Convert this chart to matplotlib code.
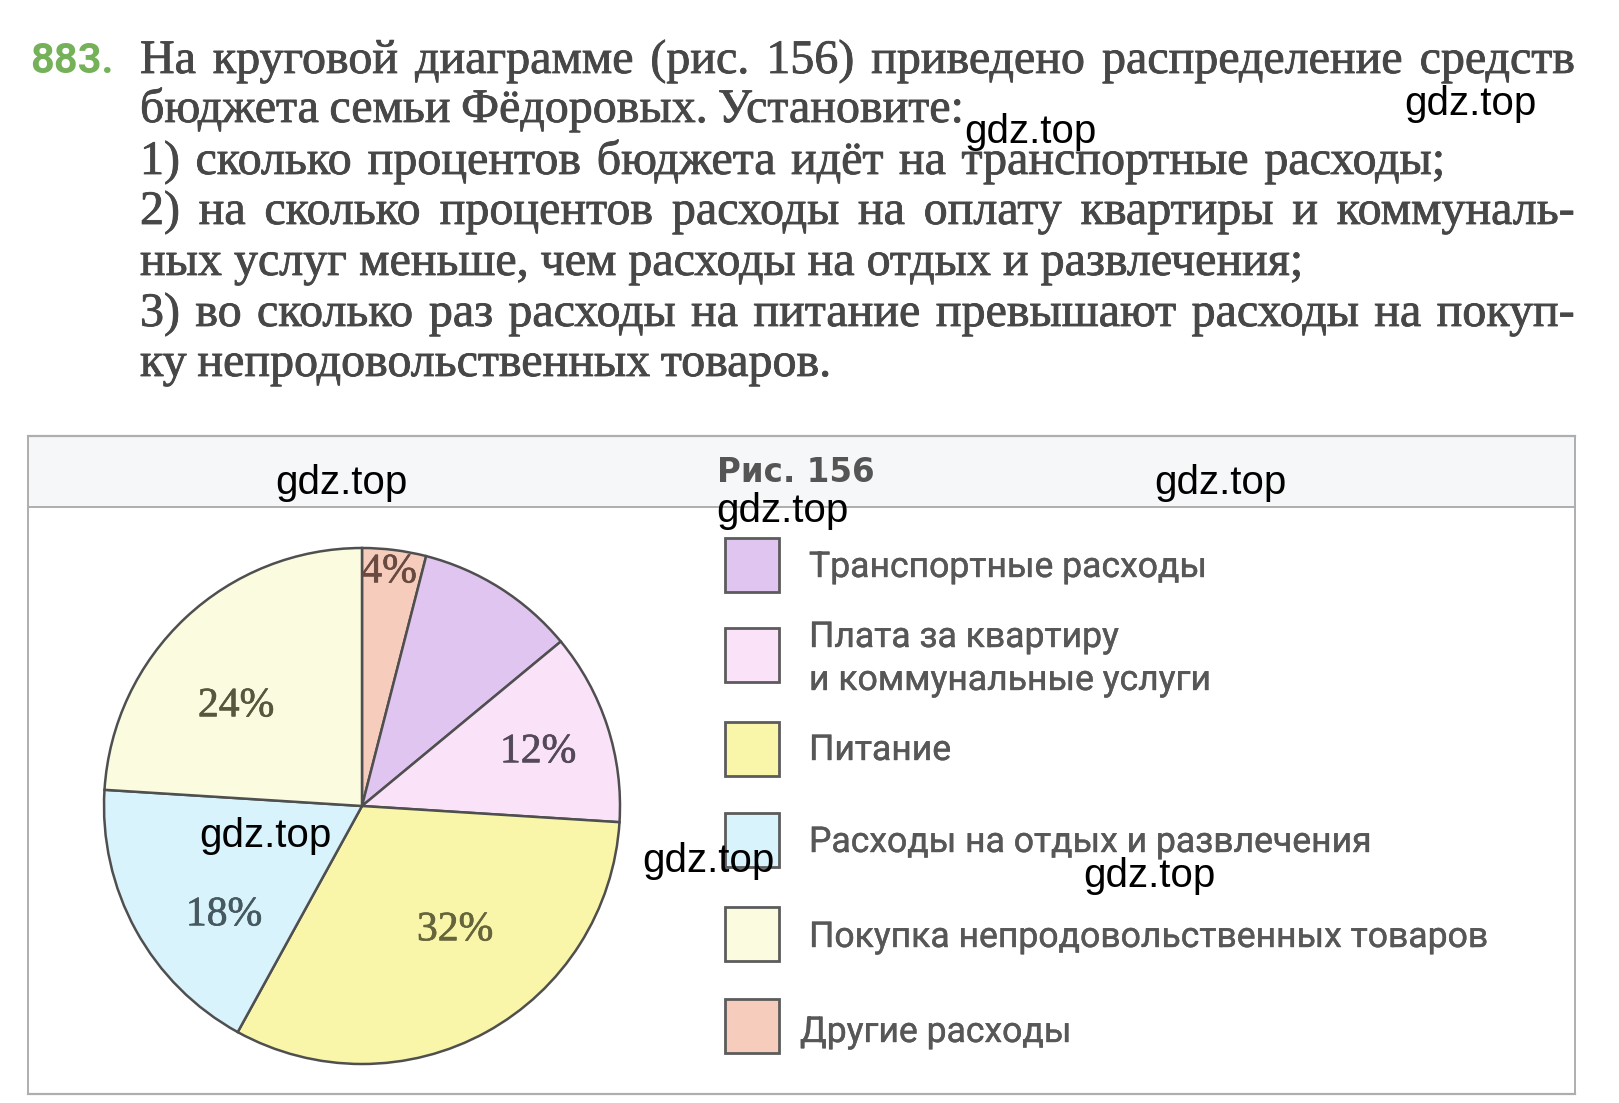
import matplotlib
matplotlib.use("Agg")
import matplotlib.pyplot as plt
from matplotlib.patches import Rectangle
import matplotlib.patheffects as pe

W, H = 1619, 1103

# ---------------- data ----------------
categories = [
    "Транспортные расходы",
    "Плата за квартиру\nи коммунальные услуги",
    "Питание",
    "Расходы на отдых и развлечения",
    "Покупка непродовольственных товаров",
    "Другие расходы",
]
shares = [10, 12, 32, 18, 24, 4]
pct_labels = ["", "12%", "32%", "18%", "24%", "4%"]
colors = ["#e0c5f1", "#fae3f9", "#f9f6aa", "#d8f3fb", "#fbfbe0", "#f6cdbd"]
pie_order = [5, 0, 1, 2, 3, 4]   # drawing order, clockwise from the top

problem_number = "883."
problem_lines = [
    "На круговой диаграмме (рис. 156) приведено распределение средств",
    "бюджета семьи Фёдоровых. Установите:",
    "1) сколько процентов бюджета идёт на транспортные расходы;",
    "2) на сколько процентов расходы на оплату квартиры и коммуналь-",
    "ных услуг меньше, чем расходы на отдых и развлечения;",
    "3) во сколько раз расходы на питание превышают расходы на покуп-",
    "ку непродовольственных товаров.",
]
figure_caption = "Рис. 156"
watermark = "gdz.top"

# ---------------- layout ----------------
line_right = [1575, 964, 1445, 1575, 1303, 1575, 831]
line_base = [73, 122, 174, 224, 275, 326, 376]
text_left = 140
pie_center = (362, 806)
pie_radius = 258
label_pos = {1: (538, 752), 2: (455, 930), 3: (224, 915), 4: (236, 706), 5: (389, 572)}
label_col = {1: "#54495a", 2: "#66643c", 3: "#465860", 4: "#56583e", 5: "#684a40"}
swatch_y = [538, 628, 722, 813, 907, 999]
swatch_h = 54
legend_base = [[577], [647, 690], [760], [852], [947], [1042]]
wm_pos = [(1404, 115), (964, 143), (275, 494), (1154, 494), (716, 522),
          (199, 847), (642, 872), (1083, 887)]

fig = plt.figure(figsize=(W / 100, H / 100), dpi=100)
ax = fig.add_axes([0, 0, 1, 1])
renderer = fig.canvas.get_renderer()

def Y(y):
    return H - y

# ---------------- frame ----------------
ax.add_patch(Rectangle((28, Y(507)), 1575 - 28, 507 - 436, facecolor="#f6f7f8",
                       edgecolor="none", zorder=0))
frame_col = "#aeaeae"
ax.plot([28, 1575], [Y(436), Y(436)], color=frame_col, lw=1.6)
ax.plot([28, 1575], [Y(507), Y(507)], color=frame_col, lw=1.4)
ax.plot([28, 1575], [Y(1094), Y(1094)], color=frame_col, lw=1.6)
ax.plot([28, 28], [Y(436), Y(1094)], color=frame_col, lw=1.4)
ax.plot([1575, 1575], [Y(436), Y(1094)], color=frame_col, lw=1.4)

# ---------------- pie ----------------
ax.pie([shares[i] for i in pie_order],
       colors=[colors[i] for i in pie_order],
       startangle=90, counterclock=False,
       center=(pie_center[0], Y(pie_center[1])), radius=pie_radius,
       wedgeprops=dict(edgecolor="#4f4f4f", linewidth=1.8))

for i, txt in enumerate(pct_labels):
    if txt:
        x, y = label_pos[i]
        ax.text(x, Y(y), txt, ha="center", va="center", fontsize=30,
                family="Liberation Serif", color=label_col[i],
                path_effects=[pe.withStroke(linewidth=0.5, foreground=label_col[i])])

# ---------------- helpers ----------------
def width_of(s, **kw):
    t = ax.text(0, 0, s, **kw)
    w = t.get_window_extent(renderer).width
    t.remove()
    return w

def fit_size(s, target, **kw):
    w = width_of(s, fontsize=10, **kw)
    return 10 * target / w

def justify(words, x0, x1, yb, **kw):
    ts = [ax.text(0, 0, w, ha="left", va="baseline", **kw) for w in words]
    ws = [t.get_window_extent(renderer).width for t in ts]
    gap = (x1 - x0 - sum(ws)) / max(len(words) - 1, 1)
    x = x0
    for t, w in zip(ts, ws):
        t.set_position((x, Y(yb)))
        x += w + gap

# ---------------- problem text ----------------
body_col = "#474747"
serif = dict(family="Liberation Serif", color=body_col)
ratios = []
for k in (1, 2, 4, 6):
    ratios.append((line_right[k] - text_left) /
                  width_of(problem_lines[k], fontsize=10, **serif) * 10)
body_fs = sum(ratios) / len(ratios)
for k, line in enumerate(problem_lines):
    justify(line.split(" "), text_left, line_right[k], line_base[k],
            fontsize=body_fs,
            path_effects=[pe.withStroke(linewidth=0.6, foreground=body_col)],
            **serif)

num_kw = dict(family="Roboto", weight="bold", color="#74b158")
ax.text(30, Y(73), problem_number, ha="left", va="baseline", fontsize=30, **num_kw)

# ---------------- caption and legend ----------------
cap_kw = dict(family="DejaVu Sans", weight="bold", color="#555555")
cap_fs = fit_size(figure_caption, 158, **cap_kw)
ax.text(717, Y(482), figure_caption, ha="left", va="baseline", fontsize=cap_fs, **cap_kw)

leg_col = "#575757"
leg_kw = dict(family="Roboto", color=leg_col)
leg_fs = fit_size(categories[4], 680, **leg_kw)
for i, cat in enumerate(categories):
    ax.add_patch(Rectangle((725, Y(swatch_y[i] + swatch_h)), 54, swatch_h,
                           facecolor=colors[i], edgecolor="#5c5c5c", lw=2.0))
    x_txt = 800 if i == 5 else 809
    for part, yb in zip(cat.split("\n"), legend_base[i]):
        ax.text(x_txt, Y(yb), part, ha="left", va="baseline", fontsize=leg_fs,
                path_effects=[pe.withStroke(linewidth=0.3, foreground=leg_col)],
                **leg_kw)

# ---------------- watermarks ----------------
for x, yb in wm_pos:
    ax.text(x, Y(yb), watermark, ha="left", va="baseline", fontsize=29,
            family="Liberation Sans", color="black", zorder=10)

ax.set_xlim(0, W)
ax.set_ylim(0, H)
ax.set_aspect("equal")
ax.axis("off")
fig.savefig("out.png", dpi=100, facecolor="white")
